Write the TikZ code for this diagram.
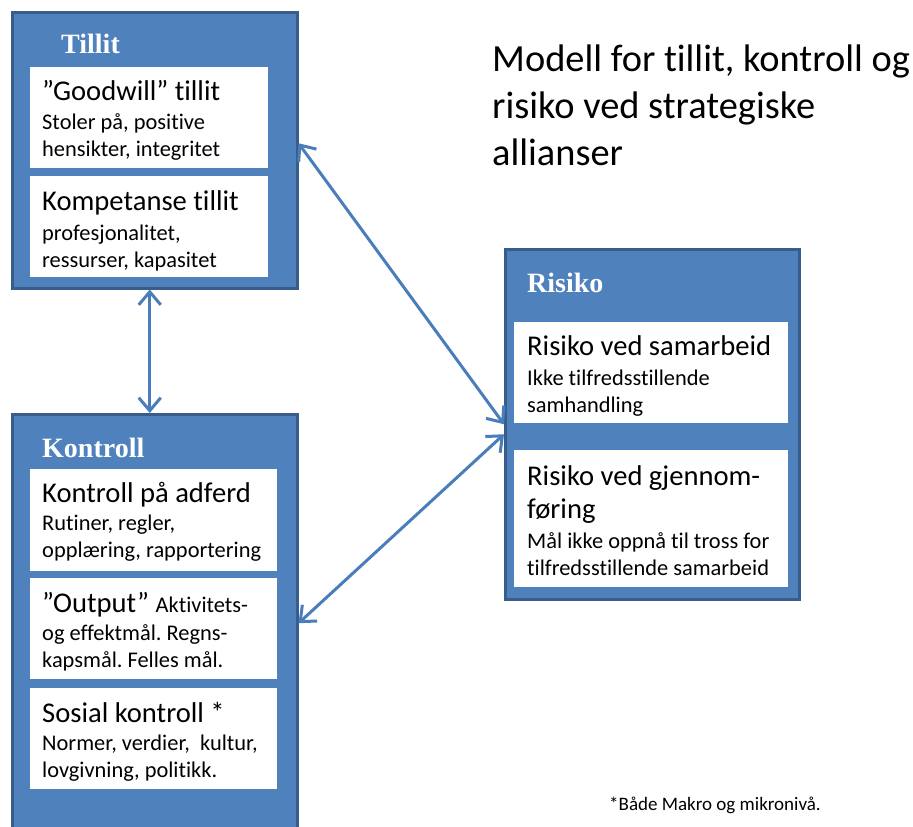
\documentclass[tikz,border=0pt]{standalone}
\usepackage{fontspec}
\setmainfont{Carlito}[Ligatures={NoCommon}]
\newfontfamily\headfont{Liberation Serif}
\usetikzlibrary{arrows.meta}
\definecolor{boxblue}{HTML}{4F81BD}
\definecolor{boxedge}{HTML}{385D8A}
\definecolor{arrblue}{HTML}{4A7EBB}
\tikzset{
  outerbox/.style={rectangle, fill=boxblue, draw=boxedge, line width=2.5pt, anchor=north west, inner sep=0pt},
  innerbox/.style={rectangle, fill=white, anchor=north west, inner sep=0pt},
  headtxt/.style={anchor=base west, inner sep=0pt, text=white, font=\headfont\bfseries\fontsize{28}{30}\selectfont},
  bigtxt/.style={anchor=base west, inner sep=0pt, font=\frenchspacing\fontsize{28.6}{30}\selectfont},
  smalltxt/.style={anchor=base west, inner sep=0pt, font=\frenchspacing\fontsize{22.4}{24}\selectfont},
  titletxt/.style={anchor=base west, inner sep=0pt, font=\fontsize{38.4}{40}\selectfont},
  notetxt/.style={anchor=base west, inner sep=0pt, font=\fontsize{19}{21}\selectfont},
  conn/.style={draw=arrblue, line width=3pt, {Straight Barb[length=13pt,width=22pt]}-{Straight Barb[length=13pt,width=22pt]}}
}
\begin{document}
\frenchspacing
\begin{tikzpicture}[x=1pt,y=-1pt]
\clip (0,0) rectangle (913,827);
\fill[white] (0,0) rectangle (913,827);
% outer boxes
\node[outerbox, minimum width=285pt, minimum height=276pt] (tillit) at (11,11) {};
\node[outerbox, minimum width=285pt, minimum height=430pt] (kontroll) at (11,413) {};
\node[outerbox, minimum width=294pt, minimum height=350pt] (risiko) at (504,248) {};
% inner boxes
\node[innerbox, minimum width=238pt, minimum height=101pt] (gw) at (30,67) {};
\node[innerbox, minimum width=238pt, minimum height=101pt] (komp) at (30,176) {};
\node[innerbox, minimum width=247pt, minimum height=102pt] (k1) at (30,469) {};
\node[innerbox, minimum width=247pt, minimum height=101pt] (k2) at (30,578) {};
\node[innerbox, minimum width=247pt, minimum height=101pt] (k3) at (30,688) {};
\node[innerbox, minimum width=274pt, minimum height=101pt] (r1) at (514,322) {};
\node[innerbox, minimum width=274pt, minimum height=137pt] (r2) at (514,450) {};
% headings
\node[headtxt] (htillit) at (61,53) {Tillit};
\node[headtxt] (hkontroll) at (42,457) {Kontroll};
\node[headtxt] (hrisiko) at (527,292) {Risiko};
% Tillit texts
\node[bigtxt] (t1) at (42,100) {”Goodwill” tillit};
\node[smalltxt] (t2) at (42,129) {Stoler på, positive};
\node[smalltxt] (t3) at (42,156) {hensikter, integritet};
\node[bigtxt] (t4) at (42,210) {Kompetanse tillit};
\node[smalltxt] (t5) at (42,240) {profesjonalitet,};
\node[smalltxt] (t6) at (42,267) {ressurser, kapasitet};
% Kontroll texts
\node[bigtxt] (c1) at (42,502) {Kontroll på adferd};
\node[smalltxt] (c2) at (42,530) {Rutiner, regler,};
\node[smalltxt] (c3) at (42,557) {opplæring, rapportering};
\node[bigtxt] (c4) at (42,612) {”Output” {\fontsize{22.4}{24}\selectfont Aktivitets-}};
\node[smalltxt] (c5) at (42,640) {og effektmål. Regns-};
\node[smalltxt] (c6) at (42,667) {kapsmål. Felles mål.};
\node[bigtxt] (c7) at (42,722) {Sosial kontroll *};
\node[smalltxt] (c8) at (42,750) {Normer, verdier,\ \ kultur,};
\node[smalltxt] (c9) at (42,777) {lovgivning, politikk.};
% Risiko texts
\node[bigtxt] (s1) at (527,355) {Risiko ved samarbeid};
\node[smalltxt] (s2) at (527,385) {Ikke tilfredsstillende};
\node[smalltxt] (s3) at (527,412) {samhandling};
\node[bigtxt] (s4) at (527,485) {Risiko ved gjennom-};
\node[bigtxt] (s5) at (527,518) {føring};
\node[smalltxt] (s6) at (527,548) {Mål ikke oppnå til tross for};
\node[smalltxt] (s7) at (527,575) {tilfredsstillende samarbeid};
% title
\node[titletxt] (ti1) at (492,71) {Modell for tillit, kontroll og};
\node[titletxt] (ti2) at (492,118) {risiko ved strategiske};
\node[titletxt] (ti3) at (492,165) {allianser};
% footnote
\node[notetxt] (note) at (609,810) {*Både Makro og mikronivå.};
% connectors
\draw[conn] ([xshift=-5pt]tillit.south) -- ([xshift=-5pt]kontroll.north);
\draw[conn] ([yshift=7pt]tillit.east) -- (risiko.west);
\draw[conn] ([yshift=6pt]kontroll.east) -- ([yshift=-10pt]risiko.west);
\end{tikzpicture}
\end{document}
